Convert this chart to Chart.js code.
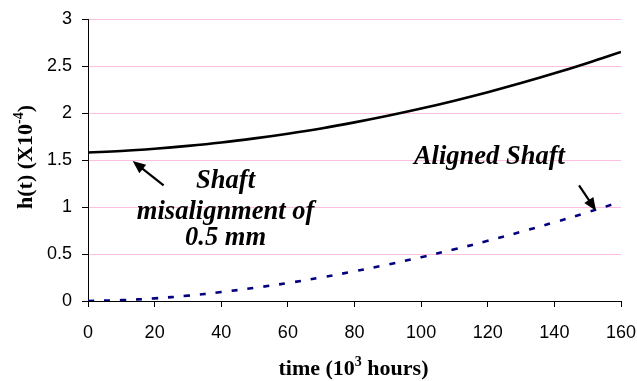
<!DOCTYPE html>
<html>
<head>
<meta charset="utf-8">
<script src="https://cdn.jsdelivr.net/npm/chart.js@4.4.1/dist/chart.umd.min.js"></script>
<style>
  html, body { margin: 0; padding: 0; background: #fff; }
  #wrap { width: 637px; height: 381px; }
</style>
</head>
<body>
<div id="wrap"><canvas id="chart" width="637" height="381"></canvas></div>
<script>
// time in 10^3 hours
const times = [0, 10, 20, 30, 40, 50, 60, 70, 80, 90, 100, 110, 120, 130, 140, 150, 160];
// h(t) x10^-4
const misaligned = [1.58, 1.596, 1.62, 1.65, 1.686, 1.73, 1.78, 1.836, 1.90, 1.97, 2.047, 2.131, 2.221, 2.318, 2.422, 2.533, 2.65];
const aligned = [0, 0.009, 0.028, 0.057, 0.095, 0.14, 0.191, 0.251, 0.316, 0.388, 0.466, 0.55, 0.64, 0.736, 0.837, 0.944, 1.056];

const xTicks = [0, 20, 40, 60, 80, 100, 120, 140, 160];
const yTicks = [0, 0.5, 1, 1.5, 2, 2.5, 3];

const serif = '"Liberation Serif", "Times New Roman", serif';
const sans = '"Liberation Sans", Arial, sans-serif';

const toPoints = (ys) => times.map((t, i) => ({ x: t, y: ys[i] }));

// arrow from tail to tip (pixels)
const drawArrow = (ctx, x0, y0, x1, y1) => {
  const ang = Math.atan2(y1 - y0, x1 - x0);
  const head = 14;
  ctx.save();
  ctx.strokeStyle = '#000';
  ctx.fillStyle = '#000';
  ctx.lineWidth = 2.2;
  ctx.beginPath();
  ctx.moveTo(x0, y0);
  ctx.lineTo(x1 - Math.cos(ang) * head * 0.8, y1 - Math.sin(ang) * head * 0.8);
  ctx.stroke();
  ctx.beginPath();
  ctx.moveTo(x1, y1);
  ctx.lineTo(x1 - head * Math.cos(ang - 0.4), y1 - head * Math.sin(ang - 0.4));
  ctx.lineTo(x1 - head * Math.cos(ang + 0.4), y1 - head * Math.sin(ang + 0.4));
  ctx.closePath();
  ctx.fill();
  ctx.restore();
};

// text made of pieces: [text, font, baseline shift]
const drawPieces = (ctx, parts, cx, base) => {
  let w = 0;
  parts.forEach(p => { ctx.font = p[1]; w += ctx.measureText(p[0]).width; });
  let x = cx - w / 2;
  parts.forEach(p => {
    ctx.font = p[1];
    ctx.fillText(p[0], x, base + p[2]);
    x += ctx.measureText(p[0]).width;
  });
};

const notes = {
  id: 'notes',
  afterDraw(chart) {
    const ctx = chart.ctx;
    const xs = chart.scales.x;
    const ys = chart.scales.y;
    const px = (v) => xs.getPixelForValue(v);
    const py = (v) => ys.getPixelForValue(v);

    ctx.save();
    ctx.fillStyle = '#000';
    ctx.textAlign = 'center';
    ctx.textBaseline = 'middle';
    ctx.font = 'italic bold 26.5px ' + serif;
    ctx.fillText('Shaft', px(41.3), py(1.27));
    ctx.fillText('misalignment of', px(41.3), py(0.95));
    ctx.fillText('0.5 mm', px(41.3), py(0.67));
    ctx.fillText('Aligned Shaft', px(120.5), py(1.53));
    ctx.restore();

    drawArrow(ctx, px(22.7), py(1.23), px(13.4), py(1.49));
    drawArrow(ctx, px(147.4), py(1.23), px(152.5), py(0.96));

    ctx.save();
    ctx.fillStyle = '#000';
    ctx.textBaseline = 'alphabetic';
    ctx.textAlign = 'left';
    const big = 'bold 22px ' + serif;
    const small = 'bold 14px ' + serif;
    drawPieces(ctx, [['time (10', big, 0], ['3', small, -9], [' hours)', big, 0]], (xs.left + xs.right) / 2 - 1, 375);

    ctx.translate(32, (ys.top + ys.bottom) / 2 - 3);
    ctx.rotate(-Math.PI / 2);
    drawPieces(ctx, [['h(t) (X10', big, 0], ['-4', small, -9], [')', big, 0]], 0, 0);
    ctx.restore();
  }
};

new Chart(document.getElementById('chart'), {
  type: 'line',
  data: {
    datasets: [
      {
        label: 'Shaft misalignment of 0.5 mm',
        data: toPoints(misaligned),
        borderColor: '#000',
        borderWidth: 2.6,
        pointRadius: 0,
        tension: 0.4,
        fill: false,
      },
      {
        label: 'Aligned Shaft',
        data: toPoints(aligned),
        borderColor: '#000080',
        borderWidth: 2.6,
        borderDash: [6, 10],
        pointRadius: 0,
        tension: 0.4,
        fill: false,
      },
    ],
  },
  options: {
    responsive: false,
    animation: false,
    layout: { padding: { top: 19, right: 16, left: 0, bottom: 0 } },
    plugins: { legend: { display: false }, tooltip: { enabled: false } },
    scales: {
      x: {
        type: 'linear',
        min: 0,
        max: 160,
        afterBuildTicks: (axis) => { axis.ticks = xTicks.map(v => ({ value: v })); },
        afterFit: (axis) => { axis.height = 80; axis.paddingLeft = 0; axis.paddingRight = 0; },
        border: { color: '#000', width: 1 },
        grid: { drawOnChartArea: false, drawTicks: true, tickLength: 6, tickColor: '#000' },
        ticks: { color: '#000', font: { family: sans, size: 18 }, padding: 15, maxRotation: 0, callback: (v) => String(v) },
      },
      y: {
        min: 0,
        max: 3,
        afterBuildTicks: (axis) => { axis.ticks = yTicks.map(v => ({ value: v })); },
        afterFit: (axis) => { axis.width = 88; axis.paddingTop = 0; axis.paddingBottom = 0; },
        border: { color: '#000', width: 1 },
        grid: { color: '#ffbfdf', lineWidth: 1, drawTicks: true, tickLength: 6, tickColor: '#000' },
        ticks: { color: '#000', font: { family: sans, size: 18 }, padding: 10, callback: (v) => String(v) },
      },
    },
  },
  plugins: [notes],
});
</script>
</body>
</html>
